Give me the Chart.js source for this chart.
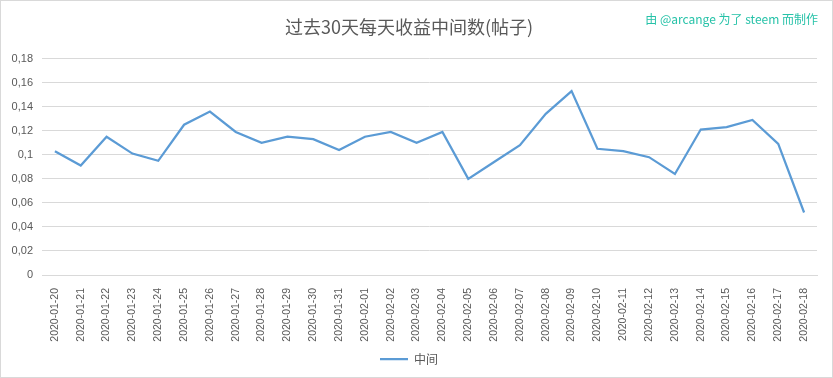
<!DOCTYPE html>
<html>
<head>
<meta charset="utf-8">
<script src="https://cdn.jsdelivr.net/npm/chart.js@4"></script>
<style>
  html, body { margin: 0; padding: 0; background: #fff; }
  .wrap { position: relative; width: 833px; height: 378px; box-sizing: border-box; border: 1px solid #d9d9d9; }
  canvas { position: absolute; left: 0; top: 0; }
  .credit {
    position: absolute; right: 14px; top: 9px;
    font: 12px "Noto Sans CJK SC", "Liberation Sans", sans-serif;
    color: #26c2a8;
  }
</style>
</head>
<body>
<div class="wrap">
  <canvas id="chart" width="831" height="376"></canvas>
  <div class="credit">由 @arcange 为了 steem 而制作</div>
</div>
<script>
// 数据
const dates = [
  '2020-01-20', '2020-01-21', '2020-01-22', '2020-01-23', '2020-01-24', '2020-01-25',
  '2020-01-26', '2020-01-27', '2020-01-28', '2020-01-29', '2020-01-30', '2020-01-31',
  '2020-02-01', '2020-02-02', '2020-02-03', '2020-02-04', '2020-02-05', '2020-02-06',
  '2020-02-07', '2020-02-08', '2020-02-09', '2020-02-10', '2020-02-11', '2020-02-12',
  '2020-02-13', '2020-02-14', '2020-02-15', '2020-02-16', '2020-02-17', '2020-02-18'
];
const median = [
  0.103, 0.091, 0.115, 0.101, 0.095, 0.125,
  0.136, 0.119, 0.110, 0.115, 0.113, 0.104,
  0.115, 0.119, 0.110, 0.119, 0.080, 0.094,
  0.108, 0.134, 0.153, 0.105, 0.103, 0.098,
  0.084, 0.121, 0.123, 0.129, 0.109, 0.052
];
const yTicks = [0, 0.02, 0.04, 0.06, 0.08, 0.1, 0.12, 0.14, 0.16, 0.18];

const gray = '#595959';
const gridColor = '#d9d9d9';

new Chart(document.getElementById('chart').getContext('2d'), {
  type: 'line',
  data: {
    labels: dates,
    datasets: [{
      label: '中间',
      data: median,
      borderColor: '#5b9bd5',
      backgroundColor: '#5b9bd5',
      borderWidth: 2.25,
      pointRadius: 0,
      tension: 0,
      fill: false
    }]
  },
  options: {
    responsive: false,
    animation: false,
    layout: { padding: { left: 0, right: 15, bottom: 2 } },
    plugins: {
      title: {
        display: true,
        text: '过去30天每天收益中间数(帖子)',
        color: gray,
        font: { family: '"Noto Sans CJK SC", sans-serif', size: 18, weight: 'normal' },
        padding: { top: 15, bottom: 21 }
      },
      legend: {
        position: 'bottom',
        labels: {
          color: gray,
          font: { family: '"Noto Sans CJK SC", sans-serif', size: 12 },
          boxWidth: 28,
          boxHeight: 0,
          padding: 10
        }
      },
      tooltip: { enabled: false }
    },
    scales: {
      y: {
        min: 0,
        max: 0.18,
        afterBuildTicks: (scale) => { scale.ticks = yTicks.map(v => ({ value: v })); },
        afterFit: (scale) => { scale.width = 41; },
        ticks: {
          color: gray,
          font: { family: '"Liberation Sans", sans-serif', size: 11 },
          padding: 9,
          callback: (v) => String(Number(v.toFixed(2))).replace('.', ',')
        },
        grid: { color: gridColor, drawTicks: false },
        border: { display: false }
      },
      x: {
        offset: true,
        afterFit: (scale) => { scale.height = 68; },
        ticks: {
          color: gray,
          font: { family: '"Liberation Sans", sans-serif', size: 10.5 },
          minRotation: 90,
          maxRotation: 90,
          autoSkip: false,
          padding: 5
        },
        grid: { display: false },
        border: { color: gridColor }
      }
    }
  }
});
</script>
</body>
</html>
